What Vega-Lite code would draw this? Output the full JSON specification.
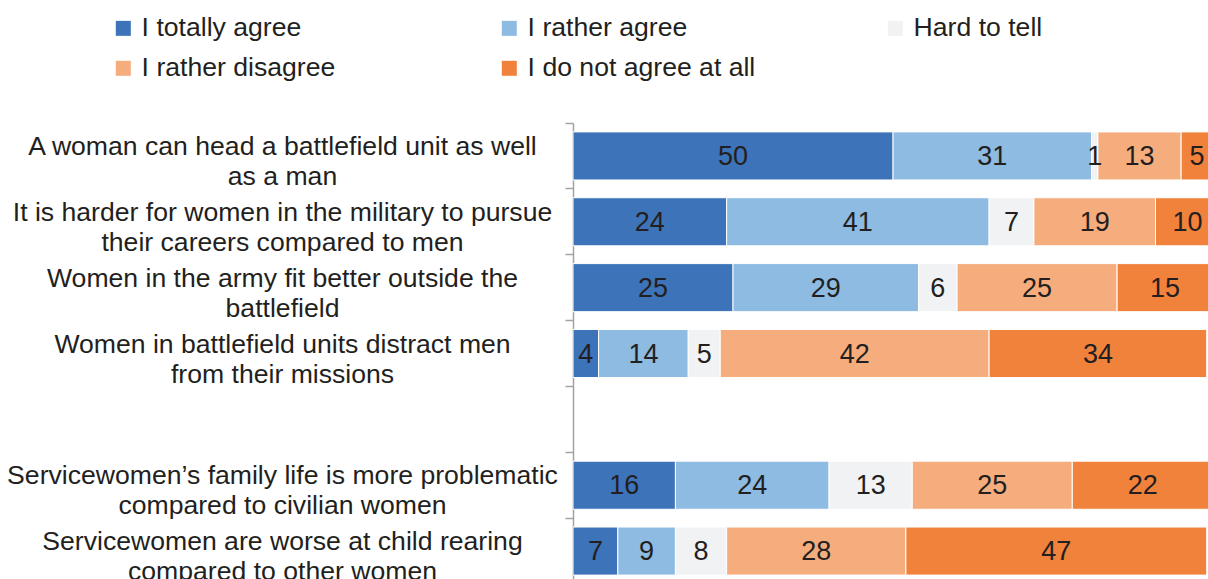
{
  "$schema": "https://vega.github.io/schema/vega-lite/v6.json",
  "width": 635,
  "height": 461,
  "autosize": {"type": "none"},
  "padding": {"left": 573, "top": 123, "right": 0, "bottom": 0},
  "background": "white",
  "config": {"view": {"stroke": null}, "font": "Liberation Sans"},
  "data": {
    "values": [
      {"q": "A woman can head a battlefield unit as well|as a man", "c": "I totally agree", "k": 1, "v": 50},
      {"q": "A woman can head a battlefield unit as well|as a man", "c": "I rather agree", "k": 2, "v": 31},
      {"q": "A woman can head a battlefield unit as well|as a man", "c": "Hard to tell", "k": 3, "v": 1},
      {"q": "A woman can head a battlefield unit as well|as a man", "c": "I rather disagree", "k": 4, "v": 13},
      {"q": "A woman can head a battlefield unit as well|as a man", "c": "I do not agree at all", "k": 5, "v": 5},
      {"q": "It is harder for women in the military to pursue|their careers compared to men", "c": "I totally agree", "k": 1, "v": 24},
      {"q": "It is harder for women in the military to pursue|their careers compared to men", "c": "I rather agree", "k": 2, "v": 41},
      {"q": "It is harder for women in the military to pursue|their careers compared to men", "c": "Hard to tell", "k": 3, "v": 7},
      {"q": "It is harder for women in the military to pursue|their careers compared to men", "c": "I rather disagree", "k": 4, "v": 19},
      {"q": "It is harder for women in the military to pursue|their careers compared to men", "c": "I do not agree at all", "k": 5, "v": 10},
      {"q": "Women in the army fit better outside the|battlefield", "c": "I totally agree", "k": 1, "v": 25},
      {"q": "Women in the army fit better outside the|battlefield", "c": "I rather agree", "k": 2, "v": 29},
      {"q": "Women in the army fit better outside the|battlefield", "c": "Hard to tell", "k": 3, "v": 6},
      {"q": "Women in the army fit better outside the|battlefield", "c": "I rather disagree", "k": 4, "v": 25},
      {"q": "Women in the army fit better outside the|battlefield", "c": "I do not agree at all", "k": 5, "v": 15},
      {"q": "Women in battlefield units distract men|from their missions", "c": "I totally agree", "k": 1, "v": 4},
      {"q": "Women in battlefield units distract men|from their missions", "c": "I rather agree", "k": 2, "v": 14},
      {"q": "Women in battlefield units distract men|from their missions", "c": "Hard to tell", "k": 3, "v": 5},
      {"q": "Women in battlefield units distract men|from their missions", "c": "I rather disagree", "k": 4, "v": 42},
      {"q": "Women in battlefield units distract men|from their missions", "c": "I do not agree at all", "k": 5, "v": 34},
      {"q": "Servicewomen’s family life is more problematic|compared to civilian women", "c": "I totally agree", "k": 1, "v": 16},
      {"q": "Servicewomen’s family life is more problematic|compared to civilian women", "c": "I rather agree", "k": 2, "v": 24},
      {"q": "Servicewomen’s family life is more problematic|compared to civilian women", "c": "Hard to tell", "k": 3, "v": 13},
      {"q": "Servicewomen’s family life is more problematic|compared to civilian women", "c": "I rather disagree", "k": 4, "v": 25},
      {"q": "Servicewomen’s family life is more problematic|compared to civilian women", "c": "I do not agree at all", "k": 5, "v": 22},
      {"q": "Servicewomen are worse at child rearing|compared to other women", "c": "I totally agree", "k": 1, "v": 7},
      {"q": "Servicewomen are worse at child rearing|compared to other women", "c": "I rather agree", "k": 2, "v": 9},
      {"q": "Servicewomen are worse at child rearing|compared to other women", "c": "Hard to tell", "k": 3, "v": 8},
      {"q": "Servicewomen are worse at child rearing|compared to other women", "c": "I rather disagree", "k": 4, "v": 28},
      {"q": "Servicewomen are worse at child rearing|compared to other women", "c": "I do not agree at all", "k": 5, "v": 47}
    ]
  },
  "transform": [
    {"stack": "v", "groupby": ["q"], "sort": [{"field": "k"}], "as": ["x0", "x1"]},
    {"calculate": "(datum.x0 + datum.x1) / 2", "as": "xm"}
  ],
  "encoding": {
    "y": {
      "field": "q",
      "type": "nominal",
      "scale": {
        "domain": [
          "A woman can head a battlefield unit as well|as a man",
          "It is harder for women in the military to pursue|their careers compared to men",
          "Women in the army fit better outside the|battlefield",
          "Women in battlefield units distract men|from their missions",
          " ",
          "Servicewomen’s family life is more problematic|compared to civilian women",
          "Servicewomen are worse at child rearing|compared to other women"
        ],
        "paddingInner": 0,
        "paddingOuter": 0
      },
      "axis": {
        "title": null,
        "grid": false,
        "bandPosition": 0,
        "labelOffset": -1,
        "tickSize": 8,
        "tickColor": "#a3a3a3",
        "tickWidth": 1.5,
        "domainColor": "#a3a3a3",
        "domainWidth": 1.5,
        "labelAlign": "center",
        "labelBaseline": "alphabetic",
        "labelPadding": 283,
        "labelFontSize": 26.6,
        "labelColor": "#231f20",
        "labelFont": "Liberation Sans",
        "labelLineHeight": 30,
        "labelLimit": 1000,
        "labelOverlap": false,
        "labelExpr": "split(datum.label, '|')"
      }
    }
  },
  "layer": [
    {
      "mark": {"type": "bar", "height": {"band": 0.73}, "clip": true, "stroke": "white", "strokeWidth": 1},
      "encoding": {
        "x": {"field": "x0", "type": "quantitative", "scale": {"domain": [0, 99.2], "nice": false, "zero": false}, "axis": null},
        "x2": {"field": "x1"},
        "color": {
          "field": "c",
          "type": "nominal",
          "scale": {
            "domain": ["I totally agree", "I rather agree", "Hard to tell", "I rather disagree", "I do not agree at all"],
            "range": ["#3d73b9", "#8dbbe2", "#f1f2f4", "#f5ad7e", "#f0823b"]
          },
          "legend": {
            "title": null,
            "orient": "none",
            "legendX": -463,
            "legendY": -108,
            "direction": "horizontal",
            "columns": 3,
            "gridAlign": "all",
            "columnPadding": 126,
            "rowPadding": 13,
            "padding": 0,
            "symbolType": "square",
            "symbolSize": 225,
            "symbolStrokeWidth": 0,
            "symbolOpacity": 1,
            "labelFontSize": 26.6,
            "labelColor": "#231f20",
            "labelFont": "Liberation Sans",
            "labelOffset": 5,
            "labelLimit": 400
          }
        }
      }
    },
    {
      "mark": {"type": "text", "clip": true, "font": "Liberation Sans", "fontSize": 27, "color": "#231f20", "baseline": "middle", "dy": 1},
      "encoding": {
        "x": {"field": "xm", "type": "quantitative"},
        "text": {"field": "v", "type": "quantitative"}
      }
    }
  ]
}
